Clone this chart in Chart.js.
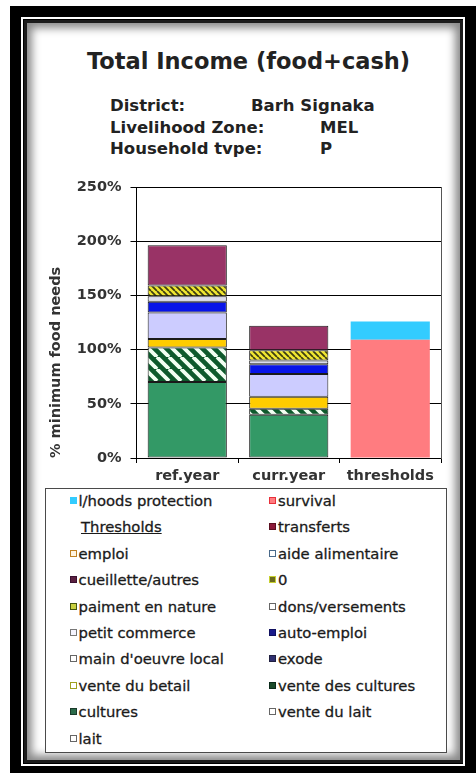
<!DOCTYPE html>
<html>
<head>
<meta charset="utf-8">
<script src="https://cdn.jsdelivr.net/npm/chart.js@4.4.0/dist/chart.umd.min.js"></script>
<style>
  html, body { margin: 0; padding: 0; background: #fff; }
  body { width: 476px; height: 773px; position: relative; overflow: hidden; font-family: "DejaVu Sans", sans-serif; }
  #frame { position: absolute; left: 10px; top: 6px; width: 466px; height: 767px; background: #000; }
  #line { position: absolute; left: 21px; top: 17px; width: 440px; height: 745px; border: 2px solid #fff; }
  #panel { position: absolute; left: 24px; top: 20px; width: 439px; height: 743px; background: #fff;
           box-shadow: inset 0 0 0 3px #1c1c1c, inset 0 0 8px 8px #8a8a8a; }
  .txt { position: absolute; white-space: nowrap; color: #222; font-weight: bold; }
  #title { left: 0; width: 497px; text-align: center; top: 48px; font-size: 22.5px; line-height: 26px; }
  .sub { font-size: 16.5px; line-height: 21.5px; }
  #chartBox { position: absolute; left: 37px; top: 165px; width: 415px; height: 330px; }
  #legend { position: absolute; left: 45px; top: 488px; width: 402px; height: 265px; box-sizing: border-box;
            border: 1.5px solid #4a4a4a; background: #fff; }
  .item { position: absolute; height: 18px; display: flex; align-items: center; white-space: nowrap;
          font-size: 14.8px; color: #1a1a1a; -webkit-text-stroke: 0.3px #1a1a1a; }
  .mark { width: 5px; height: 5px; border: 1px solid #666; margin-right: 2px; }
  .under { text-decoration: underline; }
</style>
</head>
<body>
<div id="frame"></div>
<div id="line"></div>
<div id="panel"></div>

<div id="title" class="txt">Total Income (food+cash)</div>
<div class="txt sub" style="left:110px; top:95px;">District:</div>
<div class="txt sub" style="left:251px; top:95px;">Barh Signaka</div>
<div class="txt sub" style="left:110px; top:116.5px;">Livelihood Zone:</div>
<div class="txt sub" style="left:320px; top:116.5px;">MEL</div>
<div class="txt sub" style="left:110px; top:138px;">Household tvpe:</div>
<div class="txt sub" style="left:320px; top:138px;">P</div>

<div id="chartBox"><canvas id="chart"></canvas></div>
<div id="legend"></div>

<script>
const categories = ["ref.year", "curr.year", "thresholds"];

// legend order (two columns, left to right); the bars stack in reverse order
const seriesNames = [
  "l/hoods protection", "survival", "Thresholds", "transferts",
  "emploi", "aide alimentaire", "cueillette/autres", "0",
  "paiment en nature", "dons/versements", "petit commerce", "auto-emploi",
  "main d'oeuvre local", "exode", "vente du betail", "vente des cultures",
  "cultures", "vente du lait", "lait"
];

// % of minimum food needs, [ref.year, curr.year, thresholds]
const lhoodsProtection = [0, 0, 17];
const survival = [0, 0, 109];
const thresholdsHead = [0, 0, 0];
const transferts = [37, 22.5, 0];
const emploi = [0, 0, 0];
const aideAlimentaire = [0, 0, 0];
const cueillette = [0, 0, 0];
const zero = [0, 0, 0];
const paimentNature = [10, 9.5, 0];
const dons = [0, 0, 0];
const petitCommerce = [5, 3.5, 0];
const autoEmploi = [10, 9, 0];
const mainOeuvre = [24.5, 21, 0];
const exode = [0, 0, 0];
const venteBetail = [7.7, 11, 0];
const venteCultures = [32, 5.5, 0];
const cultures = [70, 40, 0];
const venteLait = [0, 0, 0];
const lait = [0, 0, 0];

const seriesValues = [
  lhoodsProtection, survival, thresholdsHead, transferts,
  emploi, aideAlimentaire, cueillette, zero,
  paimentNature, dons, petitCommerce, autoEmploi,
  mainOeuvre, exode, venteBetail, venteCultures,
  cultures, venteLait, lait
];

const yTicks = [0, 50, 100, 150, 200, 250];

function hatch(bg, fg, size, lw) {
  const c = document.createElement("canvas");
  c.width = size;
  c.height = size;
  const g = c.getContext("2d");
  g.fillStyle = bg;
  g.fillRect(0, 0, size, size);
  g.strokeStyle = fg;
  g.lineWidth = lw;
  g.beginPath();
  for (const k of [-size, 0, size]) {
    g.moveTo(k, 0);
    g.lineTo(k + size, size);
  }
  g.stroke();
  return g.createPattern(c, "repeat");
}

const fills = [
  "#33CCFF", "#FF7C80", "#ffffff", "#993366",
  "#FFCC00", "#ffffff", "#5a2040", "#c8c830",
  hatch("#F0E630", "#3c3c12", 6, 1.8), "#ffffff", "#DCDDEE", "#0814E8",
  "#CCCCFF", "#303070", "#FFCC00", hatch("#0E5A2C", "#F2FFF2", 12, 3.8),
  "#339966", "#ffffff", "#ffffff"
];

// legend marker colours as they appear in the legend box
const markFill = [
  "#33CCFF", "#FF7C80", null, "#8b1a3a",
  "#fff4e0", "#ffffff", "#5a2040", "#6a6a20",
  "#c8d040", "#ffffff", "#f4f4ff", "#1a1a8a",
  "#ffffff", "#303070", "#ffffff", "#1a4a2a",
  "#2a6a4a", "#ffffff", "#ffffff"
];
const markLine = [
  "#33CCFF", "#e8303a", null, "#5a0f20",
  "#c08020", "#4a6a8a", "#3a1030", "#c8d030",
  "#445510", "#666666", "#777777", "#101060",
  "#666666", "#202040", "#a0a020", "#0a2a1a",
  "#1a3a2a", "#666666", "#666666"
];

const datasets = seriesNames.map((name, i) => ({
  label: name,
  data: seriesValues[i],
  backgroundColor: fills[i],
  borderColor: "#1a1a1a",
  borderWidth: (c) => (c.dataIndex < 2 && c.raw > 0 ? 1 : 0),
  borderSkipped: false,
  barPercentage: 0.78,
  categoryPercentage: 1.0
})).reverse();

const tickFont = { family: "DejaVu Sans", size: 14.5, weight: "bold" };

chart = new Chart(document.getElementById("chart"), {
  type: "bar",
  data: { labels: categories, datasets: datasets },
  options: {
    responsive: true,
    maintainAspectRatio: false,
    animation: false,
    layout: { padding: { top: 22, right: 11, bottom: 0, left: 0 } },
    plugins: { legend: { display: false }, tooltip: { enabled: false } },
    scales: {
      x: {
        stacked: true,
        grid: { display: true, drawOnChartArea: false, drawTicks: true, tickLength: 5, color: "#000", offset: true },
        border: { display: true, color: "#000", width: 1 },
        ticks: { font: tickFont, color: "#333", padding: 5, maxRotation: 0 },
        afterFit: (s) => { s.height = 37; }
      },
      y: {
        stacked: true,
        min: 0,
        max: 250,
        afterBuildTicks: (s) => { s.ticks = yTicks.map((v) => ({ value: v })); },
        ticks: { font: tickFont, color: "#333", padding: 9, callback: (v) => v + "%" },
        grid: { color: "#000", lineWidth: 1, tickLength: 6 },
        border: { display: true, color: "#000", width: 1 },
        title: {
          display: true,
          text: "% minimum food needs",
          align: "start",
          color: "#333",
          font: tickFont,
          padding: { top: 10.3, bottom: 0 }
        },
        afterFit: (s) => { s.width = 99.5; }
      },
      y2: {
        position: "right",
        grid: { display: true, drawOnChartArea: false, drawTicks: false },
        ticks: { display: false },
        border: { display: true, color: "#555", width: 1 },
        afterFit: (s) => { s.width = 0; }
      }
    }
  }
});

// legend box built from the same series names
const legendBox = document.getElementById("legend");
seriesNames.forEach((name, i) => {
  const col = i % 2;
  const row = Math.floor(i / 2);
  const item = document.createElement("div");
  item.className = "item";
  item.style.top = (11.5 + row * 26.4 - 9) + "px";
  if (markFill[i] === null) {
    item.style.left = "35px";
    item.innerHTML = '<span class="under">' + name + "</span>";
  } else {
    item.style.left = (col ? 223 : 23.5) + "px";
    const m = document.createElement("span");
    m.className = "mark";
    m.style.background = markFill[i];
    m.style.borderColor = markLine[i];
    item.appendChild(m);
    item.appendChild(document.createTextNode(name));
  }
  legendBox.appendChild(item);
});
</script>
</body>
</html>
